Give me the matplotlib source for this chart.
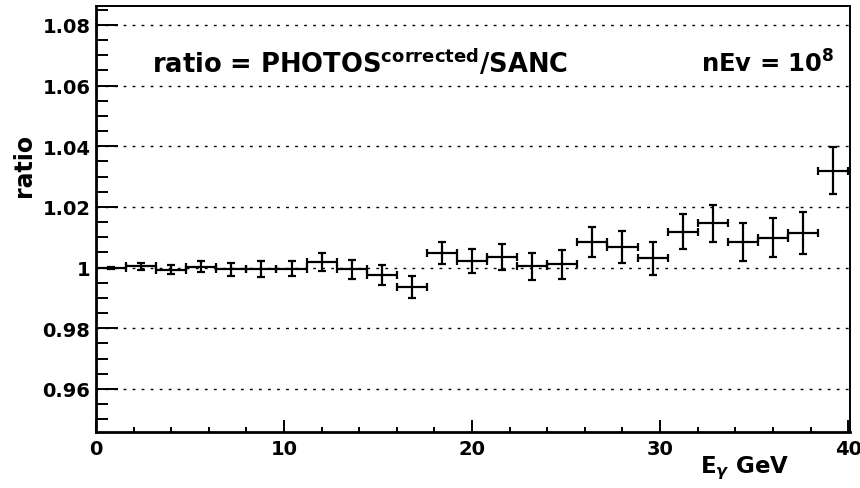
import matplotlib
matplotlib.use("Agg")
from matplotlib import pyplot as plt
from matplotlib.ticker import MultipleLocator
import numpy as np

# bin centres (GeV), 25 bins of 1.6 GeV
e_gamma = [0.8, 2.4, 4.0, 5.6, 7.2, 8.8, 10.4, 12.0, 13.6, 15.2, 16.8, 18.4, 20.0,
           21.6, 23.2, 24.8, 26.4, 28.0, 29.6, 31.2, 32.8, 34.4, 36.0, 37.6, 39.2]
half_width = [0.8] * 25
ratio = [1.0000, 1.0004, 0.9993, 1.0003, 0.9994, 0.9995, 0.9997, 1.0019, 0.9994,
         0.9976, 0.9937, 1.0048, 1.0022, 1.0034, 1.0004, 1.0011, 1.0085, 1.0069,
         1.0031, 1.0119, 1.0146, 1.0085, 1.0099, 1.0114, 1.0320]
ratio_err = [0.0003, 0.0012, 0.0015, 0.0019, 0.0021, 0.0026, 0.0025, 0.0029, 0.0031,
             0.0033, 0.0036, 0.0037, 0.0040, 0.0043, 0.0045, 0.0048, 0.0050, 0.0053,
             0.0055, 0.0057, 0.0060, 0.0062, 0.0065, 0.0069, 0.0078]
y_ticks = [0.96, 0.98, 1.00, 1.02, 1.04, 1.06, 1.08]
y_tick_labels = ["0.96", "0.98", "1", "1.02", "1.04", "1.06", "1.08"]

plt.rcParams["font.family"] = ["DejaVu Sans"]
plt.rcParams["font.weight"] = "bold"
plt.rcParams["mathtext.fontset"] = "dejavusans"

fig = plt.figure(figsize=(8.6, 4.89), dpi=100)
ax = fig.add_axes([0.1116, 0.1145, 0.8768, 0.8702])

ax.errorbar(e_gamma, ratio, xerr=half_width, yerr=ratio_err, fmt="none",
            ecolor="black", elinewidth=1.6, capsize=2.8, capthick=1.6)

ax.set_xlim(0, 40.1)
ax.set_ylim(0.9458, 1.0861)

for y in y_ticks:
    ax.axhline(y, color="black", linewidth=1.0, linestyle=(0, (2, 4.5)), zorder=0)

ax.xaxis.set_major_locator(MultipleLocator(10))
ax.xaxis.set_minor_locator(MultipleLocator(2))
ax.set_yticks(y_ticks)
ax.set_yticklabels(y_tick_labels)
ax.yaxis.set_minor_locator(MultipleLocator(0.005))

ax.tick_params(axis="x", which="major", direction="in", length=8.4, width=1.4,
               labelsize=14, pad=5)
ax.tick_params(axis="x", which="minor", direction="in", length=3.6, width=1.4)
ax.tick_params(axis="y", which="major", direction="in", length=15.6, width=1.4,
               labelsize=14, pad=4)
ax.tick_params(axis="y", which="minor", direction="in", length=8.4, width=1.4)
for lbl in ax.get_xticklabels() + ax.get_yticklabels():
    lbl.set_fontweight("bold")

for side in ["left", "bottom"]:
    ax.spines[side].set_linewidth(2.0)
for side in ["top", "right"]:
    ax.spines[side].set_linewidth(1.4)

fig.text(0.1767, 0.8507, r"ratio = PHOTOS$^{\rm corrected}$/SANC",
         fontsize=18.5, fontweight="bold", ha="left", va="baseline")
fig.text(0.971, 0.8507, r"nEv = 10$^{\mathbf{8}}$",
         fontsize=17.5, fontweight="bold", ha="right", va="baseline")
fig.text(0.028, 0.6626, "ratio", fontsize=17, fontweight="bold",
         rotation=90, ha="center", va="center")
fig.text(0.9174, 0.0327, r"E$_{\gamma}$ GeV", fontsize=16.5, fontweight="bold",
         ha="right", va="baseline")

fig.savefig("out.png", dpi=100)
